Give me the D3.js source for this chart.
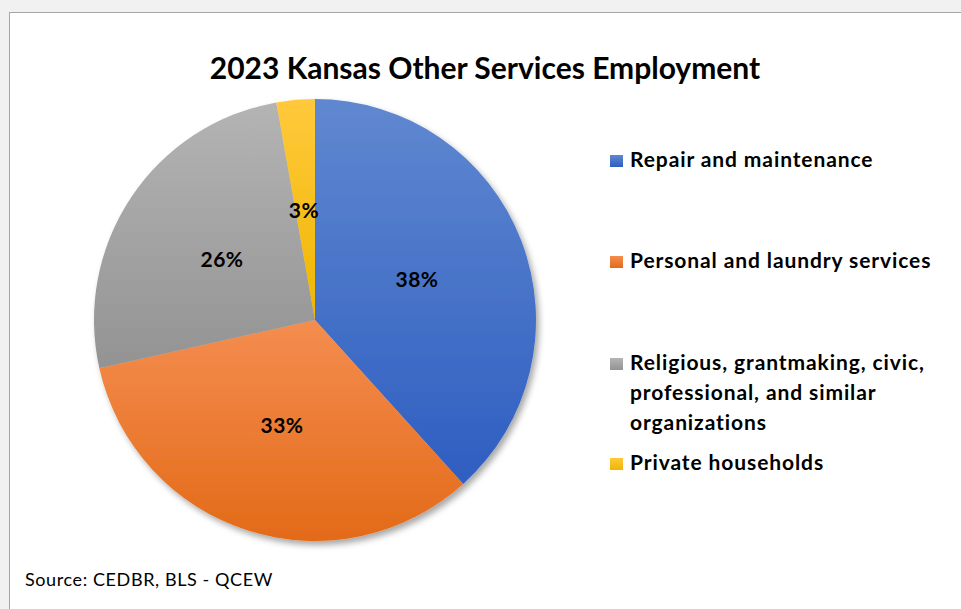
<!DOCTYPE html>
<html><head><meta charset="utf-8">
<script src="https://cdn.jsdelivr.net/npm/d3@7"></script>
<style>html,body{margin:0;padding:0;background:#f1f1f1;overflow:hidden}</style>
</head><body>
<svg id="c" width="961" height="609"></svg>
<script>
const categories = ["Repair and maintenance","Personal and laundry services","Religious, grantmaking, civic, professional, and similar organizations","Private households"];
const legendLines = [["Repair and maintenance"],["Personal and laundry services"],["Religious, grantmaking, civic,","professional, and similar","organizations"],["Private households"]];
const shares = [38.3, 33.2, 25.7, 2.8];
const labels = ["38%","33%","26%","3%"];
const gradTop = ["#6088d0","#f48d4f","#b4b4b4","#ffc93c"];
const gradBot = ["#2e5ec1","#e36a18","#939393","#efb600"];
const title = "2023 Kansas Other Services Employment";
const source = "Source: CEDBR, BLS - QCEW";

const svg = d3.select("#c");
const defs = svg.append("defs");
categories.forEach((c,i)=>{
  const g = defs.append("linearGradient").attr("id","g"+i).attr("x1",0).attr("y1",0).attr("x2",0).attr("y2",1);
  g.append("stop").attr("offset","0%").attr("stop-color",gradTop[i]);
  g.append("stop").attr("offset","100%").attr("stop-color",gradBot[i]);
});
const f = defs.append("filter").attr("id","sh").attr("x","-20%").attr("y","-20%").attr("width","140%").attr("height","140%");
f.append("feDropShadow").attr("dx",3).attr("dy",4).attr("stdDeviation",3).attr("flood-color","#000").attr("flood-opacity",0.35);

svg.append("rect").attr("x",9.5).attr("y",12.5).attr("width",980).attr("height",640)
  .attr("fill","#fff").attr("stroke","#a6a6a6").attr("stroke-width",1);

const FONT = "Lato, 'Open Sans', sans-serif";
svg.append("text").attr("x",485).attr("y",79).attr("text-anchor","middle")
  .attr("font-family",FONT).attr("font-weight","bold")
  .attr("font-size",30).attr("fill","#000").text(title);

const cx=315, cy=320, r=221;
const pie = d3.pie().sort(null).value(d=>d);
const arcs = pie(shares);
const arc = d3.arc().innerRadius(0).outerRadius(r);
const g = svg.append("g").attr("transform",`translate(${cx},${cy})`);
g.append("g").attr("filter","url(#sh)").selectAll("path").data(arcs).join("path")
  .attr("d",arc).attr("fill",(d,i)=>`url(#g${i})`);

const labelPos = [[417,280],[282,426],[222,260],[304,211]];
svg.selectAll("text.lbl").data(arcs).join("text").attr("class","lbl")
  .attr("x",(d,i)=>labelPos[i][0]).attr("y",(d,i)=>labelPos[i][1]).attr("dy","0.35em")
  .attr("text-anchor","middle").attr("font-family",FONT)
  .attr("font-weight","bold").attr("font-size",21).attr("letter-spacing",0.5).attr("fill","#000")
  .text((d,i)=>labels[i]);

const legY = [160,261,363,463];
const leg = svg.append("g");
categories.forEach((c,i)=>{
  leg.append("rect").attr("x",610).attr("y",legY[i]-5).attr("width",13).attr("height",12).attr("fill",`url(#g${i})`);
  legendLines[i].forEach((t,j)=>{
    leg.append("text").attr("x",630).attr("y",legY[i]+j*30).attr("dy","0.35em")
      .attr("font-family",FONT).attr("font-weight","bold").attr("letter-spacing",0.9)
      .attr("font-size",21).attr("fill","#000").text(t);
  });
});

svg.append("text").attr("x",25).attr("y",586).attr("font-family",FONT)
  .attr("font-size",18).attr("letter-spacing",0.6).attr("fill","#000").text(source);
</script>
</body></html>
